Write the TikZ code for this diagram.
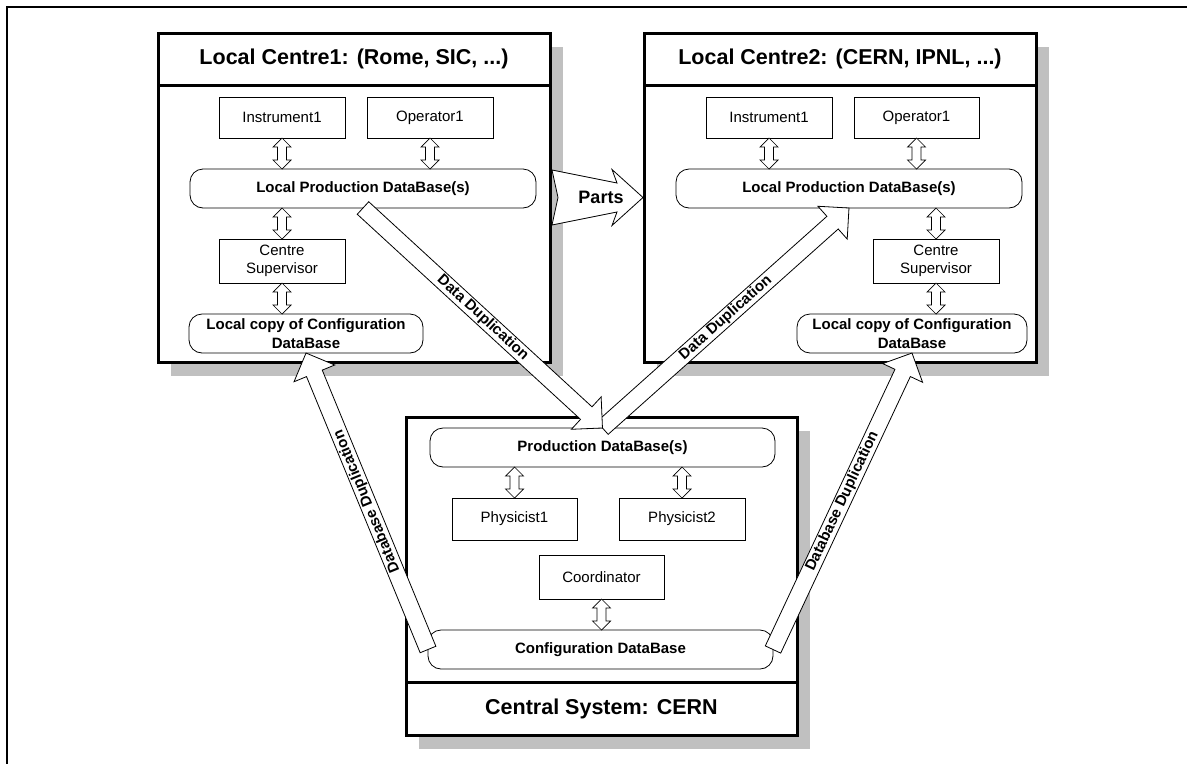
\documentclass[tikz,border=0pt]{standalone}
\usepackage{fontspec}
\setmainfont{Liberation Sans}
\usetikzlibrary{calc,shadows}

\definecolor{shadowgray}{RGB}{192,192,192}

\tikzset{
  frameline/.style={line width=2.5pt},
  centrebox/.style={draw, line width=3pt, fill=white, inner sep=0pt, outer sep=0pt,
    drop shadow={shadow xshift=13pt, shadow yshift=-14pt, fill=shadowgray, opacity=1}},
  titlebox/.style={draw, line width=3pt, fill=white, inner sep=0pt, outer sep=0pt,
    font=\fontsize{21.5}{24}\selectfont\bfseries},
  unitbox/.style={draw, line width=0.8pt, fill=white, inner sep=0pt, outer sep=0pt,
    align=center, font=\fontsize{15}{17.5}\selectfont},
  dbbox/.style={unitbox, rounded corners=13pt, font=\fontsize{15}{19}\selectfont\bfseries},
  linkarrow/.style={draw, line width=0.7pt, fill=white},
  flowarrow/.style={draw, line width=0.8pt, fill=white},
  flowtext/.style={font=\fontsize{15}{15}\selectfont\bfseries, inner sep=0pt},
  partstext/.style={font=\fontsize{18}{18}\selectfont\bfseries, inner sep=0pt},
}

% hollow double-headed vertical link between two points of equal x
\newcommand\linkpair[2]{%
  \path[linkarrow] let \p1=(#1), \p2=(#2) in
    (\x1,\y1) -- (\x1+9pt,\y1-9pt) -- (\x1+4.5pt,\y1-9pt) -- (\x1+4.5pt,\y2+9pt)
    -- (\x1+9pt,\y2+9pt) -- (\x1,\y2) -- (\x1-9pt,\y2+9pt) -- (\x1-4.5pt,\y2+9pt)
    -- (\x1-4.5pt,\y1-9pt) -- (\x1-9pt,\y1-9pt) -- cycle;}

% hollow block arrow from #1 to #2 carrying the label #3 along its shaft
\newcommand\flowarrow[3]{%
  \path let \p1=(#1), \p2=(#2) in \pgfextra{%
    \pgfmathsetmacro\flowlen{veclen(\x2-\x1,\y2-\y1)}%
    \pgfmathsetmacro\flowang{atan2(\y2-\y1,\x2-\x1)}%
    \global\let\flowlen\flowlen \global\let\flowang\flowang};
  \begin{scope}[shift={(#1)}, rotate=\flowang]
    \path[flowarrow] (0pt,8.5pt) -- ({\flowlen pt-22pt},8.5pt) -- ({\flowlen pt-22pt},22pt)
      -- (\flowlen pt,0pt) -- ({\flowlen pt-22pt},-22pt) -- ({\flowlen pt-22pt},-8.5pt)
      -- (0pt,-8.5pt) -- cycle;
    \node[flowtext, rotate=\flowang] at ({\flowlen pt/2},0pt) {#3};
  \end{scope}}

\begin{document}
\begin{tikzpicture}[x=1pt, y=-1pt]
\useasboundingbox (0,0) rectangle (1187,764);

% page frame
\draw[frameline] (1187,7) -- (7,7) -- (7,764);

% the three centres
\node[centrebox, minimum width=392pt, minimum height=329pt] (c1) at (354,197.5) {};
\node[titlebox, minimum width=392pt, minimum height=52pt, anchor=north] (t1) at (c1.north)
  {Local Centre1: (Rome, SIC, ...)};
\node[centrebox, minimum width=392pt, minimum height=329pt] (c2) at (840,197.5) {};
\node[titlebox, minimum width=392pt, minimum height=52pt, anchor=north] (t2) at (c2.north)
  {Local Centre2: (CERN, IPNL, ...)};
\node[centrebox, minimum width=391pt, minimum height=318pt] (c3) at (601.5,576) {};
\node[titlebox, minimum width=391pt, minimum height=53pt, anchor=south] (t3) at (c3.south)
  {Central System: CERN};

% Local Centre1 contents
\node[unitbox, minimum width=126pt, minimum height=41pt] (ins1) at (282,117.5) {Instrument1};
\node[unitbox, minimum width=126pt, minimum height=41pt] (op1) at (430,117.5) {Operator1};
\node[dbbox, minimum width=346pt, minimum height=39pt] (lpdb1) at (363,188.5) {Local Production DataBase(s)};
\node[unitbox, minimum width=126pt, minimum height=44pt] (cs1) at (282,261) {Centre\\Supervisor};
\node[dbbox, minimum width=234pt, minimum height=39pt] (lc1) at (306,333.5) {Local copy of Configuration\\DataBase};

% Local Centre2 contents
\node[unitbox, minimum width=126pt, minimum height=41pt] (ins2) at (769,117.5) {Instrument1};
\node[unitbox, minimum width=125pt, minimum height=41pt] (op2) at (916.5,117.5) {Operator1};
\node[dbbox, minimum width=346pt, minimum height=39pt] (lpdb2) at (849,188.5) {Local Production DataBase(s)};
\node[unitbox, minimum width=126pt, minimum height=44pt] (cs2) at (936,261) {Centre\\Supervisor};
\node[dbbox, minimum width=230pt, minimum height=39pt] (lc2) at (912,333.5) {Local copy of Configuration\\DataBase};

% Central System contents
\node[dbbox, minimum width=345pt, minimum height=39pt] (pdb) at (602.5,447.5) {Production DataBase(s)};
\node[unitbox, minimum width=125pt, minimum height=42pt] (ph1) at (514.5,519) {Physicist1};
\node[unitbox, minimum width=126pt, minimum height=42pt] (ph2) at (682,519) {Physicist2};
\node[unitbox, minimum width=125pt, minimum height=44pt] (coord) at (601.5,577) {Coordinator};
\node[dbbox, minimum width=345pt, minimum height=39pt] (cfg) at (600.5,649.5) {Configuration DataBase};

% links inside the centres
\linkpair{ins1.south}{ins1.south |- lpdb1.north}
\linkpair{op1.south}{op1.south |- lpdb1.north}
\linkpair{cs1.north |- lpdb1.south}{cs1.north}
\linkpair{cs1.south}{cs1.south |- lc1.north}
\linkpair{ins2.south}{ins2.south |- lpdb2.north}
\linkpair{op2.south}{op2.south |- lpdb2.north}
\linkpair{cs2.north |- lpdb2.south}{cs2.north}
\linkpair{cs2.south}{cs2.south |- lc2.north}
\linkpair{ph1.north |- pdb.south}{ph1.north}
\linkpair{ph2.north |- pdb.south}{ph2.north}
\linkpair{coord.south}{coord.south |- cfg.north}

% exchanges between the centres
\flowarrow{pdb.north}{lpdb2.south}{Data Duplication}
\flowarrow{lpdb1.south}{pdb.north}{Data Duplication}
\flowarrow{cfg.west}{lc1.south}{Database Duplication}
\flowarrow{cfg.east}{lc2.south}{Database Duplication}

% parts shipped from Centre1 to Centre2
\path[flowarrow] let \p1=(c1.east), \p2=(c2.west) in
  (\x1+2pt,\y1+27.5pt) -- (\x2-27pt,\y1+14.5pt) -- (\x2-32pt,\y1+28pt) -- (\x2-1pt,\y1)
  -- (\x2-32pt,\y1-28pt) -- (\x2-27pt,\y1-14.5pt) -- (\x1+2pt,\y1-27.5pt) -- (\x1+8pt,\y1) -- cycle;
\node[partstext] (parts) at ($(c1.east)!0.5!(c2.west)+(4,0)$) {Parts};
\end{tikzpicture}
\end{document}
